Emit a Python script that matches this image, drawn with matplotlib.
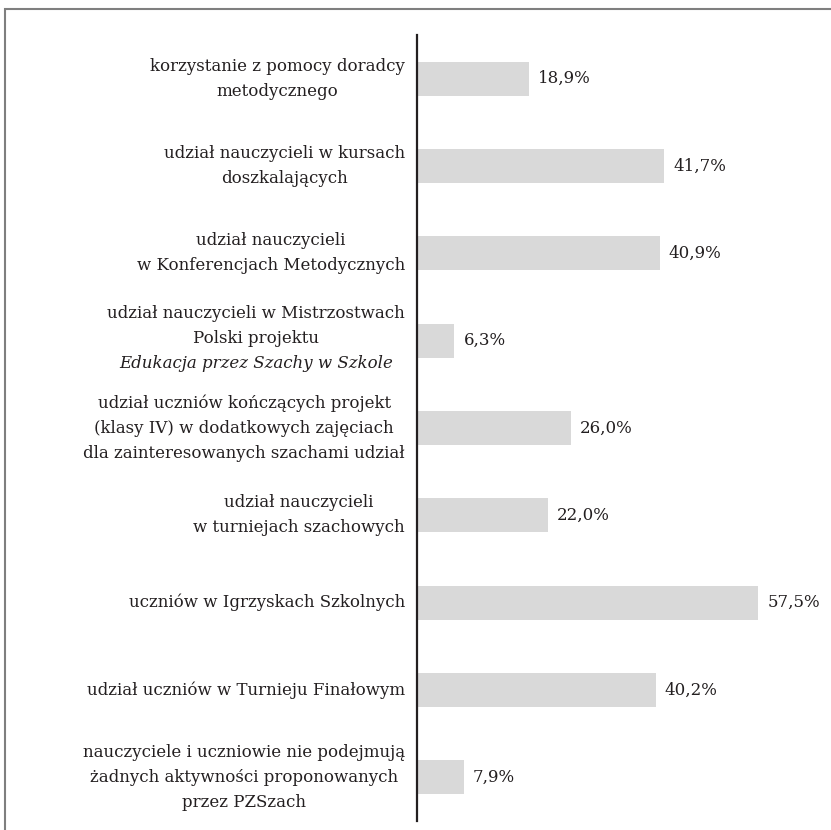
import matplotlib
matplotlib.use("Agg")
import matplotlib.pyplot as plt
from matplotlib.patches import Rectangle
from matplotlib.transforms import offset_copy

categories = [
    "korzystanie z pomocy doradcy\nmetodycznego",
    "udział nauczycieli w kursach\ndoszkalających",
    "udział nauczycieli\nw Konferencjach Metodycznych",
    "udział nauczycieli w Mistrzostwach\nPolski projektu",
    "udział uczniów kończących projekt\n(klasy IV) w dodatkowych zajęciach\ndla zainteresowanych szachami udział",
    "udział nauczycieli\nw turniejach szachowych",
    "uczniów w Igrzyskach Szkolnych",
    "udział uczniów w Turnieju Finałowym",
    "nauczyciele i uczniowie nie podejmują\nżadnych aktywności proponowanych\nprzez PZSzach",
]
italic_line = "Edukacja przez Szachy w Szkole"
values = [18.9, 41.7, 40.9, 6.3, 26.0, 22.0, 57.5, 40.2, 7.9]
value_labels = ["18,9%", "41,7%", "40,9%", "6,3%", "26,0%", "22,0%", "57,5%", "40,2%", "7,9%"]

FONT = "DejaVu Serif"
FS = 12
TXT = "#231f20"
LS = 1.6

fig = plt.figure(figsize=(8.31, 8.30), dpi=100)
fig.patches.append(Rectangle((5/831, -0.01), 1.0, 1 - 9/830 + 0.01, transform=fig.transFigure,
                             fill=False, edgecolor="#7f7f7f", linewidth=1.5))
ax = fig.add_axes([417/831, 1 - 821/830, (773 - 417)/831, (821 - 35)/830])

y = list(range(len(values)))
ax.barh(y, values, height=0.39, color="#d9d9d9", edgecolor="none")
ax.set_xlim(0, 60)
ax.set_ylim(len(values) - 0.5, -0.5)
for s in ["top", "right", "bottom"]:
    ax.spines[s].set_visible(False)
ax.spines["left"].set_color(TXT)
ax.spines["left"].set_linewidth(1.6)
ax.set_xticks([])
ax.set_yticks([])

lab_tr = offset_copy(ax.transData, fig=fig, x=-12, y=0, units="dots")
lab_tr_up = offset_copy(ax.transData, fig=fig, x=-12, y=15, units="dots")
special = None
for i, lab in enumerate(categories):
    tr = lab_tr_up if i == 3 else lab_tr
    t = ax.text(0, i, lab, transform=tr, ha="right", va="center",
                multialignment="center", fontsize=FS, family=FONT, color=TXT, linespacing=LS)
    if i == 3:
        special = t

val_tr = offset_copy(ax.transData, fig=fig, x=9, y=0, units="dots")
for i, (v, vl) in enumerate(zip(values, value_labels)):
    ax.text(v, i, vl, transform=val_tr, ha="left", va="center", fontsize=FS, family=FONT, color=TXT)

fig.canvas.draw()
r = fig.canvas.get_renderer()
bb = special.get_window_extent(r)
cx = (bb.x0 + bb.x1) / 2
yc = ax.transData.transform((0, 3))[1] - 23
fig.text(cx / (fig.dpi * fig.get_figwidth()), yc / (fig.dpi * fig.get_figheight()), italic_line,
         ha="center", va="center", fontsize=FS, family=FONT, style="italic", color=TXT)

fig.savefig("out.png", dpi=100)
